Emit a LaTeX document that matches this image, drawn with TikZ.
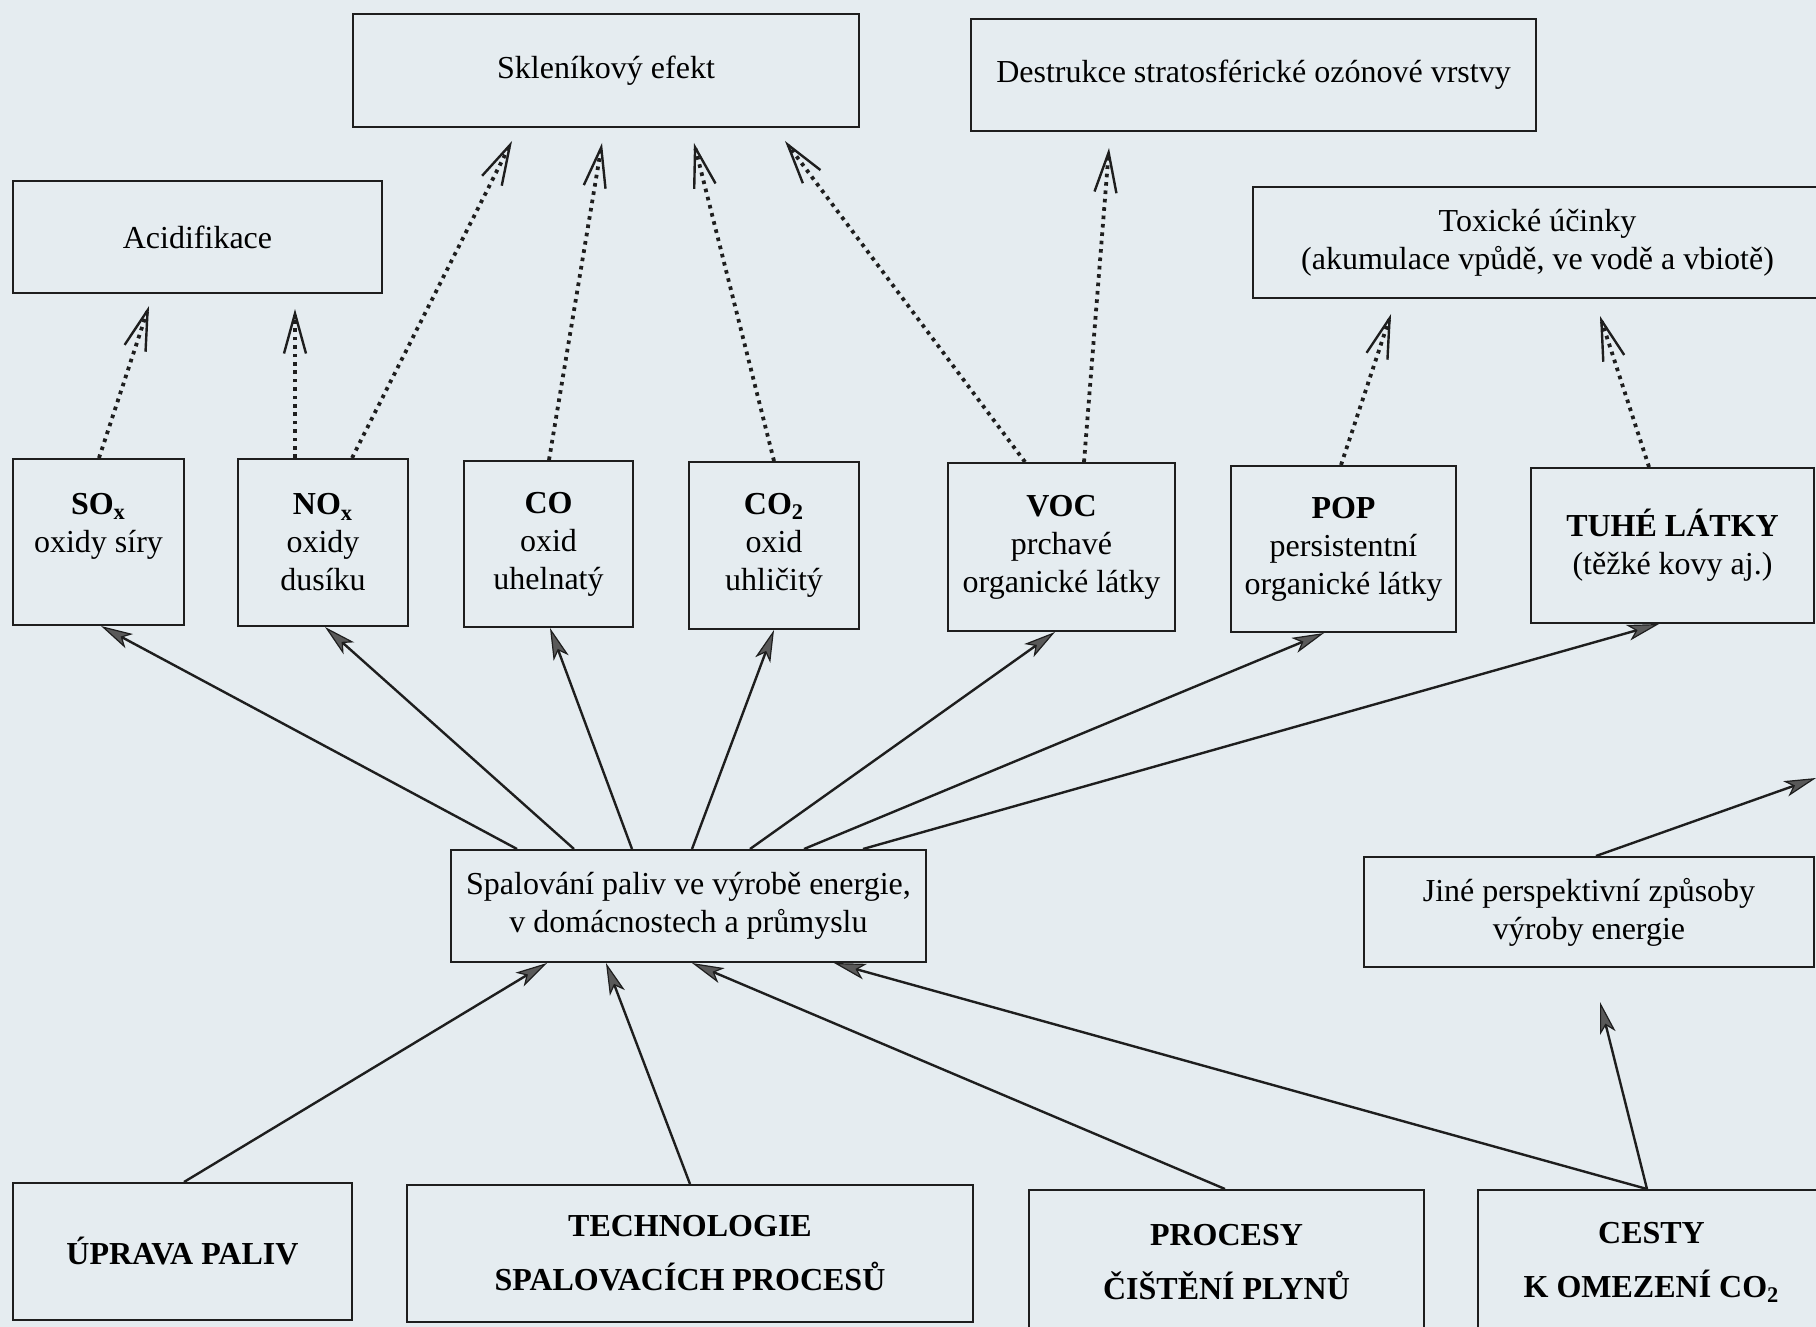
\documentclass[tikz,border=0pt]{standalone}
\usepackage{fontspec}
\setmainfont{Liberation Serif}
\usetikzlibrary{arrows.meta,calc}
\definecolor{bgc}{RGB}{229,236,240}
\definecolor{ink}{RGB}{30,30,30}
\begin{document}
\begin{tikzpicture}[x=0.5pt,y=-0.5pt,
  box/.style={draw=ink, line width=1pt, inner sep=0pt, align=center,
    font=\fontsize{16}{19}\selectfont},
  bigbox/.style={box},
  dotarrow/.style={draw=ink, line width=1.9pt, dash pattern=on 1.8pt off 2.4pt,
    -{Straight Barb[length=20pt,width=11pt,line width=1.2pt]}},
  solarrow/.style={draw=ink, line width=1.2pt,
    -{Stealth[length=16pt,width=8pt,inset=4pt,fill=gray!70!black,line width=0.6pt]}}
]
\fill[bgc] (0,0) rectangle (1816,1327);
\useasboundingbox (0,0) rectangle (1816,1327);

% effect boxes
\node[box, minimum width=253pt, minimum height=56.5pt] (sklen) at (606,70.5) {Skleníkový efekt};
\node[box, minimum width=282.5pt, minimum height=56pt] (destr) at (1253.5,75) {Destrukce stratosférické ozónové vrstvy};
\node[box, minimum width=184.5pt, minimum height=56pt] (acid) at (197.5,237) {Acidifikace};
\node[box, minimum width=284.5pt, minimum height=55.5pt] (tox) at (1537.5,242.5) {Toxické účinky\\(akumulace vpůdě, ve vodě a vbiotě)};

% emission boxes
\node[box, minimum width=85.5pt, minimum height=83pt] (sox) at (98.5,542) {\textbf{SO\textsubscript{x}}\\oxidy síry\\~};
\node[box, minimum width=85pt, minimum height=83.5pt] (nox) at (323,542.5) {\textbf{NO\textsubscript{x}}\\oxidy\\dusíku};
\node[box, minimum width=84.5pt, minimum height=83pt] (co) at (548.5,544) {\textbf{CO}\\oxid\\uhelnatý};
\node[box, minimum width=85pt, minimum height=83.5pt] (cot) at (774,545.5) {\textbf{CO\textsubscript{2}}\\oxid\\uhličitý};
\node[box, minimum width=113.5pt, minimum height=84pt] (voc) at (1061.5,547) {\textbf{VOC}\\prchavé\\organické látky};
\node[box, minimum width=112.5pt, minimum height=83pt] (pop) at (1343.5,549) {\textbf{POP}\\persistentní\\organické látky};
\node[box, minimum width=141.5pt, minimum height=77.5pt] (tuhe) at (1672.5,545.5) {\textbf{TUHÉ LÁTKY}\\(těžké kovy aj.)};

% middle boxes
\node[box, minimum width=237.5pt, minimum height=56pt] (spal) at (688.5,906) {Spalování paliv ve výrobě energie,\\v domácnostech a průmyslu};
\node[box, minimum width=225pt, minimum height=55pt] (jine) at (1589,912) {Jiné perspektivní způsoby\\výroby energie};

% bottom boxes
\node[bigbox, minimum width=169.5pt, minimum height=68.5pt] (uprava) at (182.5,1251.5) {\textbf{ÚPRAVA PALIV}};
\node[bigbox, minimum width=283pt, minimum height=68.5pt] (techn) at (690,1253.5) {\textbf{TECHNOLOGIE}\\[8pt]\textbf{SPALOVACÍCH PROCESŮ}};
\node[bigbox, minimum width=197.5pt, minimum height=72.5pt] (procesy) at (1226.5,1262.5) {\textbf{PROCESY}\\[8pt]\textbf{ČIŠTĚNÍ PLYNŮ}};
\node[bigbox, minimum width=173.5pt, minimum height=72.5pt] (cesty) at (1651.5,1262.5) {\textbf{CESTY}\\[8pt]\textbf{K OMEZENÍ CO\textsubscript{2}}};

\coordinate (offr) at (1816,778);

% dotted arrows
\draw[dotarrow] ($(sox.north west)+(87,0)$) -- ($(acid.south west)+(137,12)$);
\draw[dotarrow] ($(nox.north west)+(58,0)$) -- ($(acid.south west)+(283,15)$);
\draw[dotarrow] ($(nox.north west)+(115,0)$) -- ($(sklen.south west)+(160,13)$);
\draw[dotarrow] ($(co.north west)+(86,0)$) -- ($(sklen.south west)+(250,15)$);
\draw[dotarrow] ($(cot.north west)+(86,0)$) -- ($(sklen.south west)+(342,15)$);
\draw[dotarrow] ($(voc.north west)+(78,0)$) -- ($(sklen.south west)+(433,13)$);
\draw[dotarrow] ($(voc.north west)+(137,0)$) -- ($(destr.south west)+(139,16)$);
\draw[dotarrow] ($(pop.north west)+(111,0)$) -- ($(tox.south west)+(139,15)$);
\draw[dotarrow] ($(tuhe.north west)+(119,0)$) -- ($(tox.south west)+(348,17)$);

% solid arrows from combustion
\draw[solarrow] ($(spal.north west)+(67,0)$) -- ($(sox.south west)+(89,0)$);
\draw[solarrow] ($(spal.north west)+(124,0)$) -- ($(nox.south west)+(88,0)$);
\draw[solarrow] ($(spal.north west)+(182,0)$) -- ($(co.south west)+(87,0)$);
\draw[solarrow] ($(spal.north west)+(242,0)$) -- ($(cot.south west)+(86,0)$);
\draw[solarrow] ($(spal.north west)+(300,0)$) -- ($(voc.south west)+(108,0)$);
\draw[solarrow] ($(spal.north west)+(354,0)$) -- ($(pop.south west)+(94,0)$);
\draw[solarrow] ($(spal.north west)+(413,0)$) -- ($(tuhe.south west)+(129,0)$);

% bottom arrows
\draw[solarrow] ($(uprava.north west)+(172,0)$) -- ($(spal.south west)+(97,0)$);
\draw[solarrow] (techn.north) -- ($(spal.south west)+(156,0)$);
\draw[solarrow] ($(procesy.north west)+(197,0)$) -- ($(spal.south west)+(242,0)$);
\draw[solarrow] ($(cesty.north west)+(170,0)$) -- ($(spal.south west)+(384,0)$);
\draw[solarrow] ($(cesty.north west)+(170,0)$) -- ($(jine.south west)+(237,34)$);
\draw[solarrow] ($(jine.north west)+(233,0)$) -- (offr);
\end{tikzpicture}
\end{document}
